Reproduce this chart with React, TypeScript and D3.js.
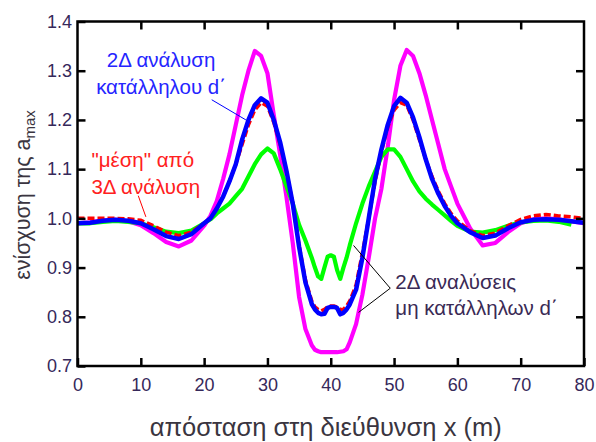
import React, { useEffect, useRef } from "react";
import * as d3 from "d3";

// distance along x (m) for every sample
const xPos = [
  0, 2, 4, 6, 8, 10, 12, 14, 16, 18, 20,
  21, 22, 23, 24, 25, 26, 27, 28, 29, 30, 31, 32, 33, 34, 35, 36, 37,
  37.5, 38, 38.5, 39, 39.5, 40, 40.5, 41, 41.5, 42, 42.5,
  43, 44, 45, 46, 47, 48, 49, 50, 51, 52, 53, 54, 55, 56, 57, 58, 59,
  60, 62, 64, 66, 68, 70, 72, 74, 76, 78, 80,
];

// "μέση" από 3Δ ανάλυση (red dashed)
const mean3D = [
  1.0, 1.0, 1.0, 1.0, 0.999, 0.996, 0.985, 0.972, 0.965, 0.972, 0.99,
  1.0, 1.02, 1.045, 1.075, 1.11, 1.15, 1.19, 1.22, 1.235, 1.228, 1.195, 1.15, 1.095, 1.03, 0.945, 0.875, 0.832,
  0.82, 0.815, 0.812, 0.815, 0.82, 0.822, 0.822, 0.82, 0.815, 0.815, 0.822,
  0.832, 0.865, 0.93, 1.0, 1.075, 1.135, 1.185, 1.22, 1.235, 1.23, 1.2, 1.16, 1.12, 1.085, 1.055, 1.03, 1.01,
  0.995, 0.975, 0.965, 0.97, 0.985, 0.998, 1.005, 1.008, 1.005, 1.003, 1.0,
];

// 2Δ ανάλυση κατάλληλου d΄ (blue)
const appropriate2D = [
  0.99, 0.991, 0.995, 0.997, 0.995, 0.99, 0.978, 0.964, 0.958, 0.968, 0.99,
  1.0, 1.02, 1.044, 1.075, 1.11, 1.16, 1.2, 1.23, 1.244, 1.235, 1.2, 1.155, 1.097, 1.03, 0.942, 0.87, 0.826,
  0.815, 0.808, 0.805, 0.806, 0.818, 0.82, 0.82, 0.818, 0.805, 0.808, 0.815,
  0.825, 0.855, 0.92, 1.0, 1.08, 1.14, 1.19, 1.228, 1.245, 1.235, 1.205, 1.165, 1.12, 1.08, 1.05, 1.025, 1.005,
  0.99, 0.972, 0.96, 0.965, 0.98, 0.992, 0.997, 0.998, 0.997, 0.994, 0.991,
];

// thin black line under the blue one
const reference2D = [
  0.99, 0.99, 0.994, 0.996, 0.994, 0.989, 0.977, 0.963, 0.958, 0.967, 0.988,
  0.998, 1.018, 1.042, 1.073, 1.108, 1.155, 1.195, 1.225, 1.24, 1.232, 1.198, 1.152, 1.095, 1.028, 0.94, 0.868, 0.824,
  0.812, 0.806, 0.804, 0.806, 0.815, 0.818, 0.818, 0.815, 0.804, 0.806, 0.812,
  0.823, 0.853, 0.918, 0.998, 1.078, 1.138, 1.188, 1.225, 1.242, 1.232, 1.202, 1.163, 1.118, 1.078, 1.048, 1.024, 1.004,
  0.99, 0.971, 0.96, 0.964, 0.979, 0.991, 0.996, 0.997, 0.996, 0.993, 0.99,
];

// 2Δ αναλύσεις μη κατάλληλων d΄ (magenta, green)
const inappropriateHigh = [
  0.99, 0.992, 0.996, 0.997, 0.994, 0.986, 0.97, 0.952, 0.943, 0.955, 0.985,
  1.005, 1.035, 1.08, 1.13, 1.19, 1.25, 1.3, 1.34, 1.33, 1.295, 1.21, 1.13, 1.044, 0.95, 0.84, 0.775, 0.742,
  0.733, 0.73, 0.728, 0.728, 0.728, 0.728, 0.728, 0.728, 0.729, 0.73, 0.734,
  0.748, 0.785, 0.845, 0.92, 1.0, 1.06, 1.145, 1.24, 1.31, 1.342, 1.33, 1.295, 1.25, 1.2, 1.15, 1.1, 1.065,
  1.03, 0.98, 0.945, 0.95, 0.972, 0.99, 0.998, 1.0, 0.998, 0.994, 0.99,
];
const inappropriateLow = [
  0.99, 0.99, 0.993, 0.995, 0.993, 0.99, 0.982, 0.973, 0.97, 0.975, 0.99,
  0.998, 1.01, 1.02, 1.03, 1.045, 1.06, 1.085, 1.11, 1.13, 1.142, 1.132, 1.1, 1.065, 1.03, 0.987, 0.955, 0.92,
  0.9, 0.882, 0.877, 0.9, 0.922, 0.925, 0.922, 0.895, 0.877, 0.9, 0.92,
  0.945, 0.99, 1.03, 1.065, 1.095, 1.125, 1.14, 1.14, 1.125, 1.1, 1.075, 1.055, 1.04, 1.028, 1.017, 1.006, 0.995,
  0.985, 0.973, 0.971, 0.976, 0.985, 0.992, 0.995, 0.996, 0.993, 0.987, null,
];

const xTicks = [0, 10, 20, 30, 40, 50, 60, 70, 80];
const yTicks = [0.7, 0.8, 0.9, 1.0, 1.1, 1.2, 1.3, 1.4];

const margins = { left: 77.5, top: 21.5, right: 12, bottom: 76 };
const W = 596;
const H = 442;
const tickColor = "#36285a";
const font = "'Liberation Sans', Arial, sans-serif";

const App = () => {
  const width = W - margins.left - margins.right;
  const height = H - margins.top - margins.bottom;

  const bottomRef = useRef(null);
  const leftRef = useRef(null);
  const topRef = useRef(null);
  const rightRef = useRef(null);

  const xScale = d3.scaleLinear().domain([0, 80]).range([0, width]);
  const yScale = d3.scaleLinear().domain([0.7, 1.4]).range([height, 0]);

  useEffect(() => {
    const style = sel => {
      sel.select(".domain").remove();
      sel.selectAll(".tick line").attr("stroke", "#000").attr("stroke-width", 2.5);
      sel
        .selectAll(".tick text")
        .attr("fill", tickColor)
        .style("font-family", font)
        .style("font-size", "18px");
    };
    const b = d3.select(bottomRef.current);
    b.call(d3.axisBottom(xScale).tickValues(xTicks).tickSize(-8).tickPadding(12.5));
    style(b);
    const l = d3.select(leftRef.current);
    l.call(d3.axisLeft(yScale).tickValues(yTicks).tickFormat(d3.format(".1f")).tickSize(-8).tickPadding(5.5));
    style(l);
    const t = d3.select(topRef.current);
    t.call(d3.axisTop(xScale).tickValues(xTicks.slice(1, -1)).tickSize(-8).tickFormat(() => ""));
    style(t);
    const r = d3.select(rightRef.current);
    r.call(d3.axisRight(yScale).tickValues(yTicks.slice(1, -1)).tickSize(-8).tickFormat(() => ""));
    style(r);
  }, []);

  const line = d3
    .line<number | null>()
    .defined(v => v != null)
    .x((_, i) => xScale(xPos[i]))
    .y(v => yScale(v as number));

  const P = (x, y) => [xScale(x), yScale(y)];
  const [bl1x, bl1y] = P(21.2, 1.241);
  const [bl2x, bl2y] = P(26.6, 1.2);
  const [rl1x, rl1y] = P(9.6, 1.046);
  const [rl2x, rl2y] = P(10.8, 1.003);
  const [kx, ky] = P(49.4, 0.858);
  const [k1x, k1y] = P(43.6, 0.945);
  const [k2x, k2y] = P(44.4, 0.809);

  return (
    <svg width={W} height={H} style={{ position: "absolute", left: 0, top: 0, background: "#fff" }}>
      <g transform={`translate(${margins.left}, ${margins.top})`}>
        <path d={line(inappropriateHigh) || ""} fill="none" stroke="#ff00ff" strokeWidth={4.2} strokeLinejoin="round" />
        <path d={line(inappropriateLow) || ""} fill="none" stroke="#00ff00" strokeWidth={4.2} strokeLinejoin="round" />
        <path d={line(reference2D) || ""} fill="none" stroke="#000" strokeWidth={1.5} />
        <path d={line(mean3D) || ""} fill="none" stroke="#ff0000" strokeWidth={3.5} strokeDasharray="7,3" />
        <path d={line(appropriate2D) || ""} fill="none" stroke="#0000ff" strokeWidth={4.5} strokeLinejoin="round" />

        <line x1={bl1x} y1={bl1y} x2={bl2x} y2={bl2y} stroke="#0000ff" strokeWidth={1} />
        <line x1={rl1x} y1={rl1y} x2={rl2x} y2={rl2y} stroke="#ff0000" strokeWidth={1} />
        <line x1={kx} y1={ky} x2={k1x} y2={k1y} stroke="#000" strokeWidth={1} />
        <line x1={kx} y1={ky} x2={k2x} y2={k2y} stroke="#000" strokeWidth={1} />

        <g style={{ fontFamily: font, fontSize: "20.5px" }}>
          <text x={xScale(13.2)} y={yScale(1.307)} textAnchor="middle" fill="#2525ff">2Δ ανάλυση</text>
          <text x={xScale(13.2)} y={yScale(1.253)} textAnchor="middle" fill="#2525ff">κατάλληλου d΄</text>
          <text x={xScale(2.2)} y={yScale(1.105)} fill="#ff2020">"μέση" από</text>
          <text x={xScale(2.2)} y={yScale(1.049)} fill="#ff2020">3Δ ανάλυση</text>
          <text x={xScale(50.2)} y={yScale(0.857)} fill="#3a2a55">2Δ αναλύσεις</text>
          <text x={xScale(50.2)} y={yScale(0.803)} fill="#3a2a55">μη κατάλληλων d΄</text>
        </g>

        <g ref={bottomRef} transform={`translate(0, ${height})`} />
        <g ref={leftRef} />
        <g ref={topRef} />
        <g ref={rightRef} transform={`translate(${width}, 0)`} />
        <rect x={0} y={0} width={width} height={height} fill="none" stroke="#000" strokeWidth={2.5} />
      </g>

      <text
        x={margins.left + width / 2 - 5}
        y={436}
        textAnchor="middle"
        fill="#3a3540"
        style={{ fontFamily: font, fontSize: "25.5px" }}
      >
        απόσταση στη διεύθυνση x (m)
      </text>
      <text
        transform={`translate(30, 195) rotate(-90)`}
        textAnchor="middle"
        fill="#3a3540"
        style={{ fontFamily: font, fontSize: "21.5px" }}
      >
        ενίσχυση της a<tspan fontSize="15px" dy="5">max</tspan>
      </text>
    </svg>
  );
};

export default App;
